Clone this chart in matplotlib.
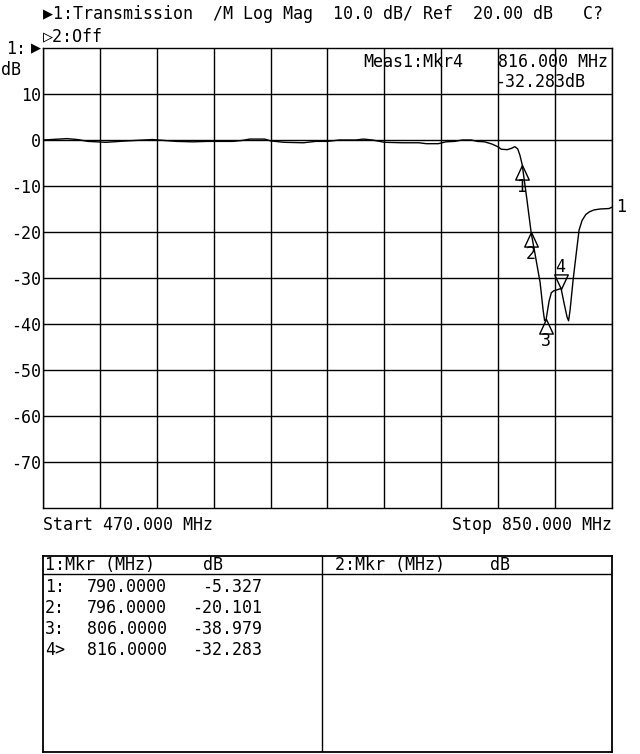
import numpy as np
import matplotlib
matplotlib.use("Agg")
import matplotlib.pyplot as plt
from matplotlib.path import Path

# ---------------- data ----------------
freq_mhz = [470, 478, 486, 493, 500, 512, 526, 543, 559, 570, 580, 597, 603, 608,
            618, 622, 631, 644, 652, 660, 668, 679, 684, 690, 698, 710, 721, 726,
            734, 739, 745, 750, 756, 760, 765, 770, 774, 776, 780, 783, 785, 787,
            788.5, 790, 793, 796, 799, 802, 804, 805, 806, 808, 809.5, 811, 813,
            816, 818, 820, 821, 822, 824, 826, 828, 830, 832.5, 835, 838, 842, 848, 850]
trace_db = [0.0, 0.15, 0.3, 0.1, -0.3, -0.5, -0.2, 0.1, -0.3, -0.4, -0.3, -0.3, -0.1, 0.2,
            0.2, -0.2, -0.5, -0.6, -0.3, -0.3, 0.0, 0.0, 0.2, 0.0, -0.5, -0.6, -0.6, -0.8,
            -0.8, -0.4, -0.3, 0.0, 0.0, -0.3, -0.4, -0.9, -1.5, -2.0, -2.1, -1.8, -1.45, -1.9,
            -3.3, -5.327, -12.5, -20.101, -25.5, -31.0, -37.0, -39.3, -38.979, -35.0, -33.2, -32.8, -32.6,
            -32.283, -35.5, -38.5, -39.3, -37.0, -30.5, -25.0, -19.6, -17.5, -16.2, -15.6, -15.2, -15.0, -14.9, -14.6]

marker_ids = ["1", "2", "3", "4"]
marker_freq = [790.0, 796.0, 806.0, 816.0]
marker_db = [-5.327, -20.101, -38.979, -32.283]
active_marker = 3

start_mhz, stop_mhz = 470.0, 850.0
ref_db, scale_db = 20.0, 10.0
ytick_labels = ["10", "0", "-10", "-20", "-30", "-40", "-50", "-60", "-70"]
ytick_vals = [10, 0, -10, -20, -30, -40, -50, -60, -70]

header1 = "\u25b61:Transmission  /M Log Mag  10.0 dB/ Ref  20.00 dB   C?"
header2 = "\u25b72:Off"
meas_line1_a = "Meas1:Mkr4"
meas_line1_b = "816.000 MHz"
meas_line2 = "-32.283dB"
start_label = "Start 470.000 MHz"
stop_label = "Stop 850.000 MHz"

table_header_1 = ["1:Mkr (MHz)", "dB"]
table_header_2 = ["2:Mkr (MHz)", "dB"]
table_rows_id = ["1:", "2:", "3:", "4>"]
table_rows_freq = ["790.0000", "796.0000", "806.0000", "816.0000"]
table_rows_db = ["-5.327", "-20.101", "-38.979", "-32.283"]

# ---------------- figure ----------------
W, H = 640, 754
FAM = ["DejaVu Sans Mono", "DejaVu Sans"]
FS = 12
plt.rcParams["font.family"] = FAM

fig = plt.figure(figsize=(W / 100, H / 100), dpi=100)
fig.patch.set_facecolor("white")

L, R, T, B = 43, 612, 48, 508
ax = fig.add_axes([L / W, 1 - B / H, (R - L) / W, (B - T) / H])
ax.set_xlim(start_mhz, stop_mhz)
ax.set_ylim(ref_db - 10 * scale_db, ref_db)
ax.set_xticks(np.linspace(start_mhz, stop_mhz, 11))
ax.set_xticklabels([])
ax.set_yticks(ytick_vals)
ax.set_yticklabels(ytick_labels, fontsize=FS, family=FAM)
ax.tick_params(axis="both", length=0, pad=1.5)
ax.grid(True, color="black", linewidth=1.0)
for sp in ax.spines.values():
    sp.set_linewidth(1.0)
    sp.set_color("black")

ax.plot(freq_mhz, trace_db, color="black", linewidth=1.0, zorder=3)

up_tri = Path([(0, 0), (-6.5, -14), (6.5, -14), (0, 0)], closed=True)
down_tri = Path([(0, 0), (-6.5, 14), (6.5, 14), (0, 0)], closed=True)
PX = 0.72
for i, (mid, f, d) in enumerate(zip(marker_ids, marker_freq, marker_db)):
    if i == active_marker:
        mk, off = down_tri, 22
    else:
        mk, off = up_tri, -22
    ax.plot([f], [d], marker=mk, markersize=21, markerfacecolor="none",
            markeredgecolor="black", markeredgewidth=1.0, linestyle="none", zorder=4)
    ax.annotate(mid, (f, d), xytext=(-0.5, off * PX), textcoords="offset points",
                ha="center", va="center", fontsize=FS, family=FAM)

ax.annotate("1", (freq_mhz[-1], trace_db[-1]), xytext=(4 * PX, 0), textcoords="offset points",
            ha="left", va="center", fontsize=FS, family=FAM, annotation_clip=False)


def ftext(x, y, s, ha="left", fs=FS):
    fig.text(x / W, 1 - y / H, s, ha=ha, va="center", fontsize=fs, family=FAM)


ftext(43, 14, header1)
ftext(43, 36, header2)
ftext(26, 49, "1:", ha="right")
ftext(31, 48, "\u25b6")
ftext(1, 70, "dB")
ftext(363, 62, meas_line1_a)
ftext(608, 62, meas_line1_b, ha="right")
ftext(585, 82, meas_line2, ha="right")
ftext(43, 525, start_label)
ftext(612, 525, stop_label, ha="right")

# ---------------- marker table ----------------
TL, TR, TT, TB = 43, 612, 556, 752
tb = fig.add_axes([TL / W, 1 - TB / H, (TR - TL) / W, (TB - TT) / H])
tb.set_xlim(TL, TR)
tb.set_ylim(TB, TT)
tb.set_xticks([])
tb.set_yticks([])
for sp in tb.spines.values():
    sp.set_linewidth(1.3)
    sp.set_color("black")
tb.axvline(322, color="black", linewidth=1.0)
tb.axhline(574, color="black", linewidth=1.0)

tk = dict(va="center", fontsize=FS, family=FAM)
tb.text(45, 565, table_header_1[0], ha="left", **tk)
tb.text(203, 565, table_header_1[1], ha="left", **tk)
tb.text(335, 565, table_header_2[0], ha="left", **tk)
tb.text(490, 565, table_header_2[1], ha="left", **tk)
for k, (rid, rf, rd) in enumerate(zip(table_rows_id, table_rows_freq, table_rows_db)):
    y = 587 + 21 * k
    tb.text(45, y, rid, ha="left", **tk)
    tb.text(167, y, rf, ha="right", **tk)
    tb.text(262, y, rd, ha="right", **tk)

fig.savefig("out.png", dpi=100, facecolor="white")
